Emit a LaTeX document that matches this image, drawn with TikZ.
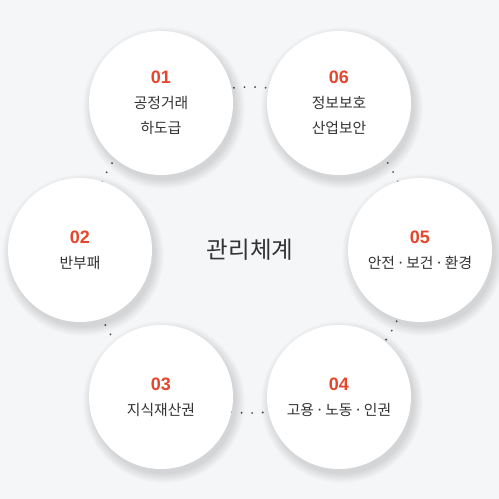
\documentclass[tikz,border=0pt]{standalone}
\usepackage{fontspec}
\setmainfont{Noto Sans CJK KR}
\newfontfamily\numfont{Liberation Sans}
\definecolor{bgc}{HTML}{F5F6F8}
\definecolor{numc}{HTML}{E5462D}
\definecolor{txtc}{HTML}{333333}
\definecolor{dotc}{HTML}{4a4f55}
\tikzset{
  bubble/.style={circle, fill=white, minimum size=144pt, inner sep=0pt,
    align=center, text=txtc, font=\fontsize{14.8}{25}\selectfont},
  dotring/.style={draw=dotc, line width=2.1pt, line cap=round, dash pattern=on 0pt off 10.6pt, dash phase=0.5pt},
}
\newcommand{\numlab}[1]{{\numfont\bfseries\fontsize{18}{25}\selectfont\textcolor{numc}{#1}}}
\newcommand{\md}{\hspace{1.5pt}·\hspace{1.5pt}}
\newcommand{\softshadow}[1]{%
  \foreach \k in {0,1,...,10}{
    \fill[black, opacity=0.013] ([xshift=3pt,yshift=-5pt]#1) circle[radius=72+\k*0.9];
  }}
\begin{document}
\begin{tikzpicture}[x=1pt,y=-1pt]
\fill[bgc] (0,0) rectangle (499,499);
\useasboundingbox (0,0) rectangle (499,499);
\coordinate (c) at (250,250);
\draw[dotring] (c) circle[radius=163];
\coordinate (p1) at (161,103);
\coordinate (p6) at (339,103);
\coordinate (p2) at (80,250);
\coordinate (p5) at (420,250);
\coordinate (p3) at (161,397);
\coordinate (p4) at (339,397);
\foreach \p in {p1,p2,p3,p4,p5,p6}{\softshadow{\p}}
\node[bubble] (n1) at (p1) {\numlab{01}\\공정거래\\하도급};
\node[bubble] (n6) at (p6) {\numlab{06}\\정보보호\\산업보안};
\node[bubble] (n2) at (p2) {\numlab{02}\\반부패};
\node[bubble] (n5) at (p5) {\numlab{05}\\안전\md 보건\md 환경};
\node[bubble] (n3) at (p3) {\numlab{03}\\지식재산권};
\node[bubble] (n4) at (p4) {\numlab{04}\\고용\md 노동\md 인권};
\node[text=txtc, font=\fontsize{23.5}{25}\selectfont] (center) at (c) {관리체계};
\end{tikzpicture}
\end{document}
